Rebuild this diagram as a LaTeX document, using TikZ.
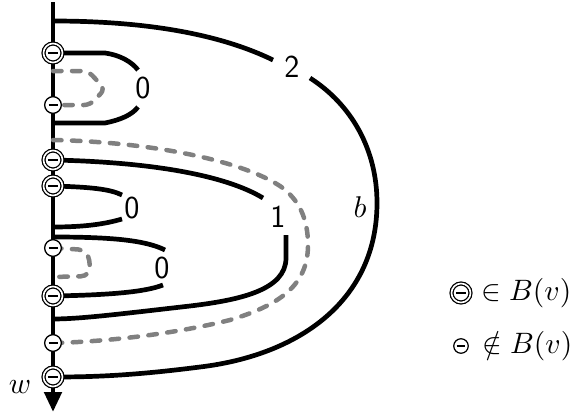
\documentclass[tikz,border=0pt]{standalone}
\usepackage{graphicx}
\usetikzlibrary{arrows.meta,backgrounds}
\definecolor{dgray}{RGB}{128,128,128}
\tikzset{
  curve/.style={line width=4.7pt,black},
  gcurve/.style={line width=4.5pt,dgray,dash pattern=on 8.5pt off 10.5pt,line cap=round},
  dmark/.style={circle,draw,double,double distance=1.6pt,line width=1.3pt,fill=white,
    inner sep=0pt,minimum size=19pt,path picture={\draw[line width=1.6pt,black]
      ([xshift=-5.2pt]path picture bounding box.center) --
      ([xshift=5.2pt]path picture bounding box.center);}},
  smark/.style={circle,draw,line width=1.3pt,fill=white,inner sep=0pt,
    minimum size=16.7pt,path picture={\draw[line width=1.6pt,black]
      ([xshift=-4.5pt]path picture bounding box.center) --
      ([xshift=4.5pt]path picture bounding box.center);}},
  lsmark/.style={circle,draw,line width=1.2pt,fill=white,inner sep=0pt,
    minimum size=14.5pt,path picture={\draw[line width=1.2pt,black]
      ([xshift=-4.3pt]path picture bounding box.center) --
      ([xshift=4.3pt]path picture bounding box.center);}},
  num/.style={font=\sffamily\fontsize{32}{34}\selectfont,inner sep=0pt},
  mlab/.style={inner sep=0pt},
  legtext/.style={inner sep=0pt,anchor=west},
}
\begin{document}
\begin{tikzpicture}[x=1pt,y=-1pt]
\useasboundingbox (0,0) rectangle (576,415);
% markers on the line
\node[dmark] (m1) at (53,53) {};
\node[smark] (m3) at (53,105) {};
\node[dmark] (m2) at (53,160) {};
\node[dmark] (m4) at (53,186) {};
\node[smark] (m5) at (53,248) {};
\node[dmark] (m6) at (53,296) {};
\node[smark] (m7) at (53,343) {};
\node[dmark] (m8) at (53,377) {};
% attachment points without marker
\coordinate (top) at (53,2);
\coordinate (bot) at (53,412);
\coordinate (a2) at (53,21);
\coordinate (g1) at (53,71);
\coordinate (a0) at (53,123);
\coordinate (g2) at (53,140);
\coordinate (b0) at (53,227);
\coordinate (c0) at (53,237);
\coordinate (g3) at (53,277);
\coordinate (a1) at (53,319);
% labels
\node[num] (l2) at (292,67) {2};
\node[num] (l1) at (278,217) {1};
\node[num] (l0a) at (143,88) {0};
\node[num] (l0b) at (132,208) {0};
\node[num] (l0c) at (162,268) {0};
\node[mlab] (lb) at (360,207) {\scalebox{3}{$b$}};
\node[mlab] (lw) at (20,387) {\scalebox{3}{$w$}};
% legend
\node[dmark] (k1) at (461,293) {};
\node[legtext] (t1) at (481,293) {\scalebox{2.95}{$\in B(v)$}};
\node[lsmark] (k2) at (461,346) {};
\node[legtext] (t2) at (482,346) {\scalebox{2.95}{$\notin B(v)$}};
\begin{pgfonlayer}{background}
  \draw[curve,-{Triangle[length=20pt,width=17pt]}] (top) -- (bot);
  % outer curve 2
  \draw[curve] (a2) .. controls (165,21) and (232,40) .. (273,60);
  \draw[curve] (310,78) .. controls (352,105) and (377,150) .. (377,203)
     .. controls (377,300) and (300,355) .. (200,367)
     .. controls (130,376) and (90,377) .. (m8.center);
  % top 0
  \draw[curve] (m1.center) -- (105,53) .. controls (120,55) and (132,62) .. (138,70);
  \draw[curve] (138,107) .. controls (132,115) and (120,120) .. (105,123) -- (a0);
  \draw[gcurve,rounded corners=6pt] (g1) -- (88,71) -- (105,89) -- (90,105) -- (m3.center);
  % big grey
  \draw[gcurve] (g2) .. controls (150,142) and (240,160) .. (280,186)
     .. controls (300,200) and (308,220) .. (308,245)
     .. controls (308,285) and (280,305) .. (230,320)
     .. controls (170,335) and (100,342) .. (m7.center);
  % curve 1
  \draw[curve] (m2.center) .. controls (150,162) and (225,175) .. (263,198);
  \draw[curve] (286,235) -- (286,258) .. controls (286,290) and (240,300) .. (190,306)
     .. controls (120,314) and (80,319) .. (a1);
  % middle 0
  \draw[curve] (m4.center) .. controls (90,187) and (110,189) .. (122,195);
  \draw[curve] (122,219) .. controls (105,224) and (85,227) .. (b0);
  % lower 0
  \draw[curve] (c0) .. controls (110,237) and (145,240) .. (165,250);
  \draw[curve] (163,285) .. controls (145,292) and (110,295) .. (m6.center);
  \draw[gcurve,rounded corners=10pt] (m5.center) -- (88,250) -- (91,276) -- (g3);
\end{pgfonlayer}
\end{tikzpicture}
\end{document}
